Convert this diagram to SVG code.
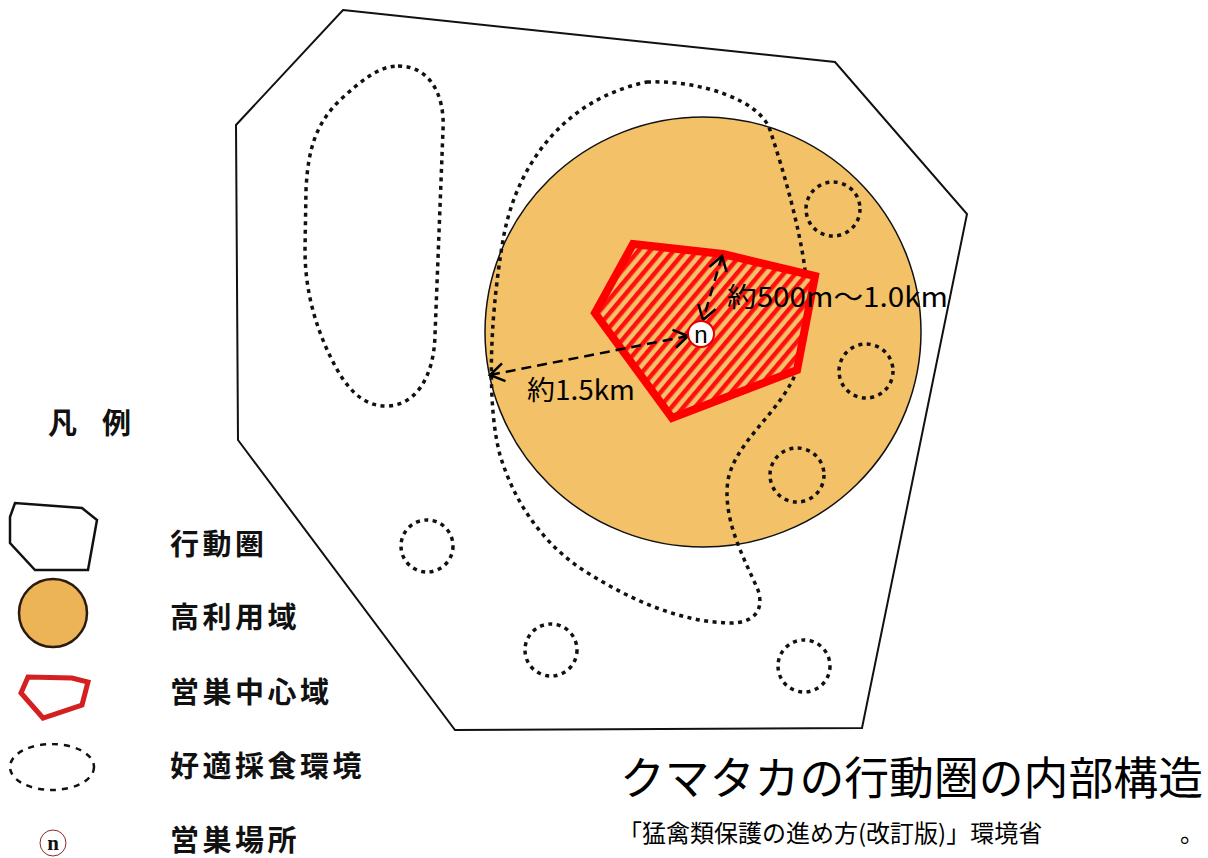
<svg xmlns="http://www.w3.org/2000/svg" width="1208" height="858" viewBox="0 0 1208 858">
<style>
.jp{font-family:"Noto Sans CJK JP","Noto Sans",sans-serif;fill:#000}
.lg{font-family:"Noto Sans CJK JP",sans-serif;font-weight:700;font-size:29px;letter-spacing:3.5px;fill:#111}
.dot{fill:none;stroke:#111;stroke-width:3.5;stroke-dasharray:4 4.5}
.arr{fill:none;stroke:#000;stroke-width:2.5;stroke-dasharray:10 6}
</style>
<defs>
<pattern id="hatch" width="9" height="9" patternUnits="userSpaceOnUse" patternTransform="rotate(40)">
<rect width="9" height="9" fill="#F3C168"/>
<rect width="4.5" height="9" fill="#FF1010"/>
</pattern>
<marker id="ah" markerUnits="userSpaceOnUse" markerWidth="20" markerHeight="22" viewBox="0 0 20 22" refX="15" refY="11" orient="auto-start-reverse">
<path d="M1,2 L15,11 L1,20" fill="none" stroke="#000" stroke-width="2.5"/>
</marker>
</defs>
<rect width="1208" height="858" fill="#fff"/>

<g id="home-range">
<polygon points="343,10 835,62 967,214 862,728 455,730 238,440 236,125" fill="#fff" stroke="#111" stroke-width="2"/>
</g>
<g id="high-use-area">
<ellipse cx="703" cy="332" rx="218" ry="215" fill="#F3C168" stroke="#111" stroke-width="1.5"/>
</g>
<g id="foraging-areas">
<path class="dot" d="M398,66 C430,66 445,95 443,130 L435,335 C434,378 415,406 386,406 C362,406 346,388 332,360 C316,328 305,292 305,250 L306,190 C308,145 318,122 340,100 C360,82 378,66 398,66 Z"/>
<path class="dot" d="M647,82 C700,80 760,100 770,130 C785,175 800,230 805,270 C810,320 800,370 790,385 C770,420 735,445 728,480 C722,520 745,560 758,590 C765,612 752,623 730,623 C680,622 630,600 583,570 C545,545 515,505 500,455 C488,410 488,330 503,240 C515,170 560,100 647,82 Z"/>
<circle class="dot" cx="833" cy="209" r="27"/>
<circle class="dot" cx="866" cy="371" r="27"/>
<circle class="dot" cx="797" cy="475" r="27"/>
<circle class="dot" cx="427" cy="546" r="26"/>
<circle class="dot" cx="551" cy="650" r="26"/>
<circle class="dot" cx="804" cy="666" r="26"/>
</g>
<g id="nest-core-area">
<polygon points="633,244 723,254 815,276 797,370 672,418 595,313" fill="url(#hatch)" stroke="#FF0000" stroke-width="8" stroke-linejoin="miter"/>
</g>
<g id="connectors">
<line class="arr" x1="490" y1="375" x2="688" y2="336" marker-start="url(#ah)" marker-end="url(#ah)"/>
<line class="arr" x1="722" y1="256" x2="703" y2="320" marker-start="url(#ah)" marker-end="url(#ah)"/>
</g>
<g id="nest">
<circle cx="701" cy="334" r="13" fill="#fff" stroke="#E00000" stroke-width="2"/>
<text x="701" y="343" text-anchor="middle" font-family="Liberation Sans,sans-serif" font-size="24" fill="#000">n</text>
</g>
<g id="labels">
<text class="jp" x="727" y="307" font-size="27" textLength="221" lengthAdjust="spacingAndGlyphs">約500m〜1.0km</text>
<text class="jp" x="527" y="400" font-size="27" textLength="108" lengthAdjust="spacingAndGlyphs">約1.5km</text>
</g>

<g id="legend">
<text class="lg" x="48" y="434" font-size="30">凡<tspan x="102">例</tspan></text>
<g id="legend-home-range">
<polygon points="10,517 15,503 82,508 97,520 88,570 35,570 10,543" fill="#fff" stroke="#111" stroke-width="2.5"/>
<text class="lg" x="170" y="555">行動圏</text>
</g>
<g id="legend-high-use">
<circle cx="53" cy="613" r="34" fill="#EDB457" stroke="#2a1a10" stroke-width="2.5"/>
<text class="lg" x="170" y="628">高利用域</text>
</g>
<g id="legend-nest-core">
<polygon points="21,693 28,677 72,678 88,682 82,705 43,718" fill="none" stroke="#D42020" stroke-width="5"/>
<text class="lg" x="170" y="703">営巣中心域</text>
</g>
<g id="legend-foraging">
<ellipse cx="52" cy="767" rx="42" ry="23" fill="none" stroke="#111" stroke-width="2.5" stroke-dasharray="6 6"/>
<text class="lg" x="170" y="777">好適採食環境</text>
</g>
<g id="legend-nest">
<circle cx="53" cy="843" r="13" fill="#fff" stroke="#8a2a2a" stroke-width="1"/>
<text x="53" y="850" text-anchor="middle" font-family="Liberation Serif,serif" font-weight="700" font-size="21" fill="#111">n</text>
<text class="lg" x="170" y="851">営巣場所</text>
</g>
</g>

<g id="title">
<text class="jp" x="620" y="795" font-size="45" textLength="583" lengthAdjust="spacingAndGlyphs">クマタカの行動圏の内部構造</text>
<text class="jp" x="618" y="842" font-size="24">「猛禽類保護の進め方(改訂版)」環境省<tspan x="1180">。</tspan></text>
</g>
</svg>
